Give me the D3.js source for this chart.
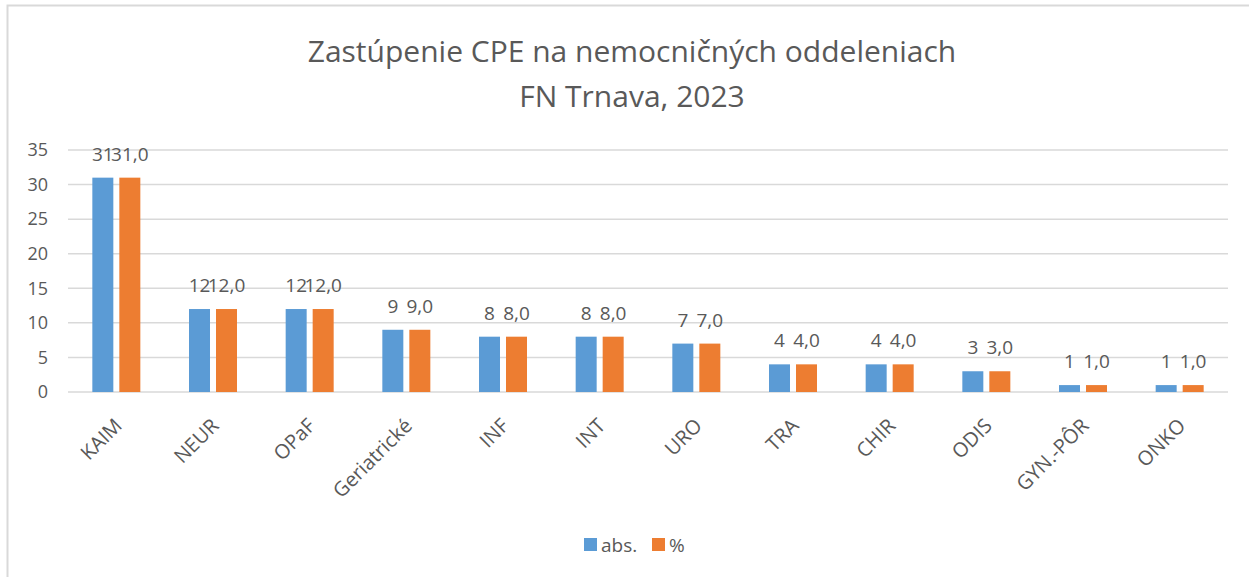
<!DOCTYPE html>
<html>
<head>
<meta charset="utf-8">
<script src="https://cdn.jsdelivr.net/npm/d3@7"></script>
<style>
  body { margin: 0; background: #fff; }
  text { font-family: "Open Sans", Lato, sans-serif; fill: #595959; }
</style>
</head>
<body>
<div id="chart"></div>
<script>
const categories = ["KAIM", "NEUR", "OPaF", "Geriatrické", "INF", "INT", "URO", "TRA", "CHIR", "ODIS", "GYN.-PÔR", "ONKO"];
const absValues = [31, 12, 12, 9, 8, 8, 7, 4, 4, 3, 1, 1];
const pctValues = [31.0, 12.0, 12.0, 9.0, 8.0, 8.0, 7.0, 4.0, 4.0, 3.0, 1.0, 1.0];
const yTicks = [0, 5, 10, 15, 20, 25, 30, 35];
const seriesNames = ["abs.", "%"];
const colors = ["#5B9BD5", "#ED7D31"];

const width = 1249;
const height = 577;
const margin = { left: 68, right: 21, top: 150, bottom: 185 };

const svg = d3.select("#chart")
  .append("svg")
  .attr("width", width)
  .attr("height", height);

// chart frame
svg.append("path")
  .attr("d", `M7.5,${height} V5.5 H${width}`)
  .attr("fill", "none")
  .attr("stroke", "#d9d9d9")
  .attr("stroke-width", 2);

const x = d3.scaleBand()
  .domain(categories)
  .range([margin.left, width - margin.right]);

const y = d3.scaleLinear()
  .domain([0, 35])
  .range([height - margin.bottom, margin.top]);

const barW = 21;
const gap = 6;
const fs = "19px";

// title
const title = svg.append("text")
  .attr("text-anchor", "middle")
  .style("font-size", "30px");
title.append("tspan").attr("x", 632).attr("y", 62).text("Zastúpenie CPE na nemocničných  oddeleniach");
title.append("tspan").attr("x", 632).attr("y", 107).text("FN Trnava, 2023");

// gridlines
svg.append("g")
  .selectAll("line")
  .data(yTicks)
  .join("line")
  .attr("x1", margin.left)
  .attr("x2", width - margin.right)
  .attr("y1", d => y(d))
  .attr("y2", d => y(d))
  .attr("stroke", "#d9d9d9")
  .attr("stroke-width", 1.5);

// y tick labels
svg.append("g")
  .selectAll("text")
  .data(yTicks)
  .join("text")
  .attr("x", 48)
  .attr("y", d => y(d))
  .attr("dy", "0.35em")
  .attr("text-anchor", "end")
  .style("font-size", "18px")
  .text(d => d);

const series = [absValues, pctValues];
const offsets = [-(barW + gap / 2), gap / 2];

series.forEach((vals, s) => {
  svg.append("g")
    .selectAll("rect")
    .data(vals)
    .join("rect")
    .attr("x", (d, i) => x(categories[i]) + x.bandwidth() / 2 + offsets[s])
    .attr("y", d => y(d))
    .attr("width", barW)
    .attr("height", d => y(0) - y(d))
    .attr("fill", colors[s]);

  // value labels sit over each bar (they overlap in the original too)
  svg.append("g")
    .selectAll("text")
    .data(vals)
    .join("text")
    .attr("x", (d, i) => x(categories[i]) + x.bandwidth() / 2 + offsets[s] + barW / 2)
    .attr("y", d => y(d) - 17)
    .attr("text-anchor", "middle")
    .style("font-size", fs)
    .text(d => s === 0 ? d : d.toFixed(1).replace(".", ","));
});

// category labels
svg.append("g")
  .selectAll("text")
  .data(categories)
  .join("text")
  .attr("transform", d => `translate(${x(d) + x.bandwidth() / 2 + 7},${y(0) + 35}) rotate(-45)`)
  .attr("text-anchor", "end")
  .style("font-size", "20px")
  .text(d => d);

// legend
const legend = svg.append("g").attr("transform", "translate(584,538)");
const legendX = [0, 68];
seriesNames.forEach((name, i) => {
  legend.append("rect")
    .attr("x", legendX[i])
    .attr("y", 0)
    .attr("width", 13)
    .attr("height", 13)
    .attr("fill", colors[i]);
  legend.append("text")
    .attr("x", legendX[i] + 17)
    .attr("y", 7)
    .attr("dy", "0.35em")
    .style("font-size", fs)
    .text(name);
});
</script>
</body>
</html>
